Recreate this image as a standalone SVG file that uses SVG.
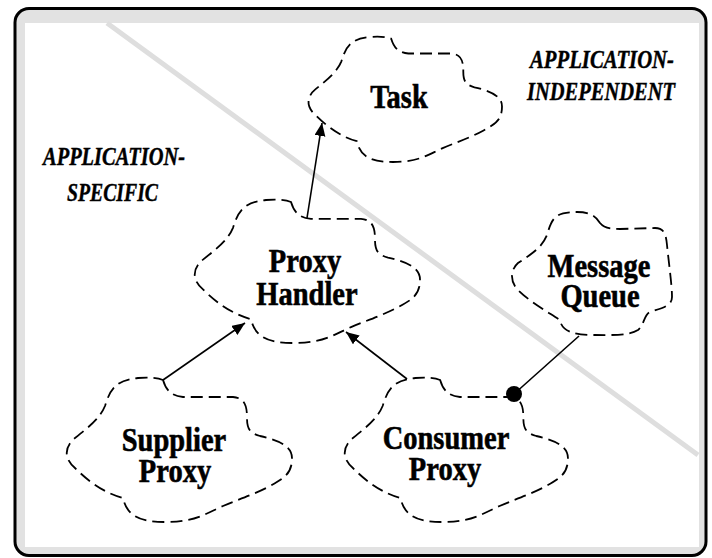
<svg xmlns="http://www.w3.org/2000/svg" width="712" height="558" viewBox="0 0 712 558">
<style>
.cloud{fill:none;stroke:#000;stroke-width:1.8;stroke-dasharray:12 6}
.lbl{font-family:"Liberation Serif","Times New Roman",serif;font-weight:bold;font-size:28.5px;text-anchor:middle;fill:#000;stroke:#000;stroke-width:0.5}
.side{font-family:"Liberation Serif","Times New Roman",serif;font-weight:bold;font-style:italic;font-size:21px;fill:#000;stroke:#000;stroke-width:0.35}
.conn{stroke:#000;stroke-width:1.6;fill:none}
</style>
<defs>
<path id="cloudShape" d="M98,2 C101,12 106,18 118,19 L168,19 C180,20 182,28 182,40 C182,50 184,55 195,58 C218,63 227,70 227,80 C227,95 220,100 205,108 C190,116 172,122 158,128 C140,136 130,144 100,144 C75,144 62,138 58,120 C40,115 25,105 10,90 C-2,80 0,68 10,60 C25,48 35,40 40,28 C45,12 50,2 73,0 C85,-1 93,0 98,2 Z"/>
<marker id="arr" markerUnits="userSpaceOnUse" markerWidth="14" markerHeight="12" refX="13" refY="5.5" orient="auto">
<path d="M0,0 L13,5.5 L0,11 Z" fill="#000"/>
</marker>
</defs>
<g id="frame">
<rect x="15" y="8.5" width="691" height="547" rx="14" fill="#e2e2e2" stroke="#000" stroke-width="3"/>
<rect x="25" y="23" width="674" height="524" fill="#fff"/>
<line x1="107" y1="23" x2="698" y2="455" stroke="#dedede" stroke-width="5"/>
</g>
<g id="regions">
<text class="side" transform="translate(43,165) scale(1,1.2)" textLength="142" lengthAdjust="spacingAndGlyphs">APPLICATION-</text>
<text class="side" transform="translate(67,201) scale(1,1.2)" textLength="91" lengthAdjust="spacingAndGlyphs">SPECIFIC</text>
<text class="side" transform="translate(530,68) scale(1,1.2)" textLength="144" lengthAdjust="spacingAndGlyphs">APPLICATION-</text>
<text class="side" transform="translate(527,100) scale(1,1.2)" textLength="148" lengthAdjust="spacingAndGlyphs">INDEPENDENT</text>
</g>
<g id="connectors">
<line class="conn" x1="307" y1="218" x2="322" y2="123" marker-end="url(#arr)"/>
<line class="conn" x1="163" y1="380" x2="245" y2="323" marker-end="url(#arr)"/>
<line class="conn" x1="407" y1="379" x2="346" y2="332" marker-end="url(#arr)"/>
<line class="conn" x1="514" y1="394" x2="579" y2="336"/>
<circle cx="514" cy="394" r="8" fill="#000"/>
</g>
<g id="task">
<path class="cloud" d="M391.2,38.7 C393.8,47.4 398.1,52.6 408.4,53.5 L451.3,53.5 C461.6,54.4 463.3,61.3 463.3,71.7 C463.3,80.4 465.1,84.7 474.5,87.3 C494.3,91.7 502,97.8 502,106.4 C502,119.5 496,123.8 483.1,130.7 C470.2,137.7 454.7,142.9 442.7,148.1 C427.3,155 418.7,162 392.9,162 C371.4,162 360.3,156.8 356.8,141.2 C341.4,136.8 328.5,128.1 315.6,115.1 C305.3,106.4 307,96 315.6,89.1 C328.5,78.7 337.1,71.7 341.4,61.3 C345.7,47.4 350,38.7 369.7,37 C380,36.1 386.9,37 391.2,38.7 Z"/>
<text class="lbl" transform="translate(399,108) scale(1,1.2)">Task</text>
</g>
<g id="proxy-handler">
<use href="#cloudShape" class="cloud" transform="translate(193,200) scale(1,0.993)"/>
<text class="lbl" transform="translate(305,272) scale(1,1.2)">Proxy</text>
<text class="lbl" transform="translate(307,305) scale(1,1.2)">Handler</text>
</g>
<g id="message-queue">
<path class="cloud" d="M600,223 C604,228 610,229 620,229 L655,228 C664,228 666,234 667,245 C669,265 672,285 672,297 C672,306 662,308 650,312 C644,315 644,325 638,330 C628,336 610,335 595,335 C578,335 562,333 560,320 C548,312 530,302 518,290 C510,282 510,270 518,263 C530,255 542,248 547,235 C552,218 555,212 577,212 C590,212 596,216 600,223 Z"/>
<text class="lbl" transform="translate(599,277) scale(1,1.2)">Message</text>
<text class="lbl" transform="translate(600,307) scale(1,1.2)">Queue</text>
</g>
<g id="supplier-proxy">
<use href="#cloudShape" class="cloud" transform="translate(65,378)"/>
<text class="lbl" transform="translate(174,451) scale(1,1.2)">Supplier</text>
<text class="lbl" transform="translate(175,482) scale(1,1.2)">Proxy</text>
</g>
<g id="consumer-proxy">
<use href="#cloudShape" class="cloud" transform="translate(343,378) scale(0.991,1)"/>
<text class="lbl" transform="translate(446,449) scale(1,1.2)">Consumer</text>
<text class="lbl" transform="translate(445,480) scale(1,1.2)">Proxy</text>
</g>
</svg>
